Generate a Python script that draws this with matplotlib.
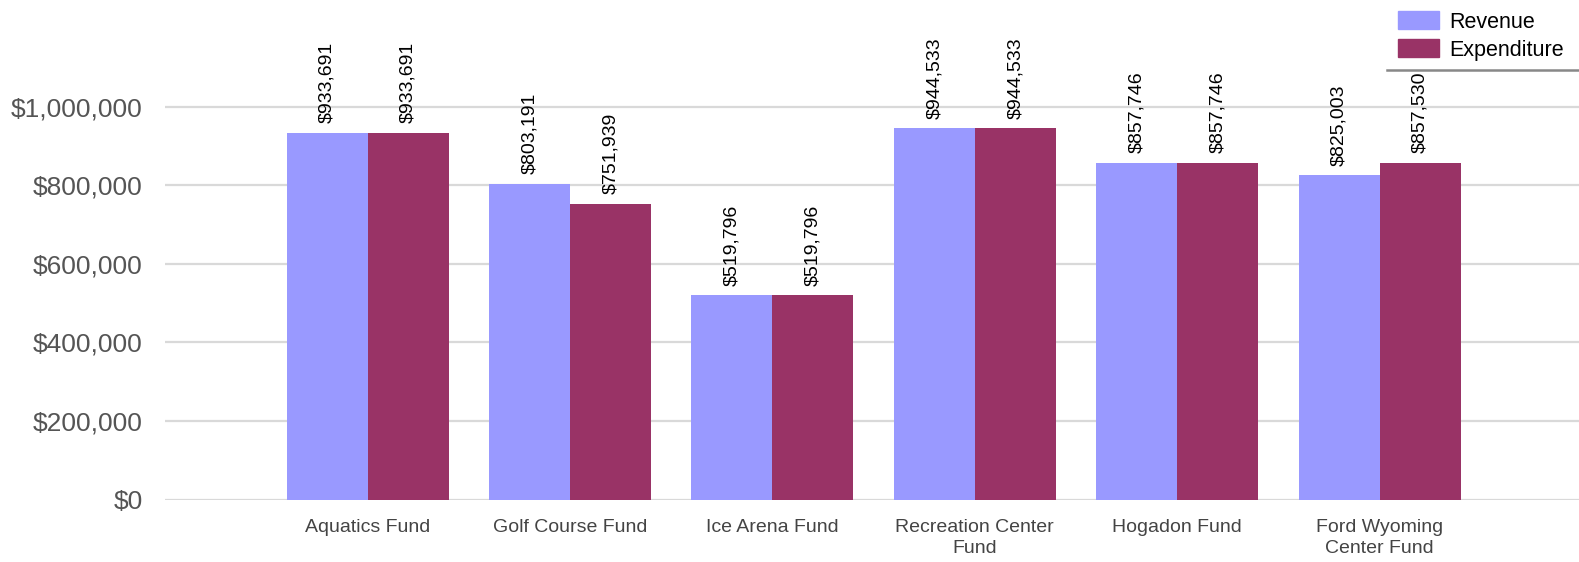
import matplotlib.pyplot as plt
import numpy as np
from matplotlib.lines import Line2D
from matplotlib.patches import Patch

plt.rcParams['font.family'] = ['Liberation Sans', 'DejaVu Sans']

funds = ['Aquatics Fund', 'Golf Course Fund', 'Ice Arena Fund',
         'Recreation Center\nFund', 'Hogadon Fund', 'Ford Wyoming\nCenter Fund']
revenue = [933691, 803191, 519796, 944533, 857746, 825003]
expenditure = [933691, 751939, 519796, 944533, 857746, 857530]

colors = {'revenue': '#9999ff', 'expenditure': '#993366'}

W, H = 1579, 562
fig = plt.figure(figsize=(W / 100, H / 100), dpi=100)
ax = fig.add_axes([165 / W, 1 - 499.5 / H, (W - 165) / W, 499.5 / H])

x = np.arange(len(funds))
width = 0.4
bars_rev = ax.bar(x - width / 2, revenue, width, color=colors['revenue'], zorder=2)
bars_exp = ax.bar(x + width / 2, expenditure, width, color=colors['expenditure'], zorder=2)

for bars, vals in ((bars_rev, revenue), (bars_exp, expenditure)):
    for b, v in zip(bars, vals):
        ax.annotate(f'${v:,}', (b.get_x() + b.get_width() / 2, v),
                    xytext=(0, 7), textcoords='offset points',
                    rotation=90, ha='center', va='bottom',
                    fontsize=14, color='#000000', zorder=3)

ax.set_xlim(-1.001, 5.985)
ax.set_ylim(0, 1.2716e6)
ax.set_yticks(np.arange(0, 1000001, 200000))
ax.set_yticklabels([f'${t:,}' for t in range(0, 1000001, 200000)],
                   fontsize=19, color='#555555')
ax.set_xticks(x)
ax.set_xticklabels(funds, fontsize=14, color='#444444', linespacing=1.35)
ax.tick_params(axis='y', length=0, pad=16)
ax.tick_params(axis='x', length=0, pad=14)
ax.grid(axis='y', color='#d9d9d9', linewidth=1.6, zorder=0)
for s in ax.spines.values():
    s.set_visible(False)

handles = [Patch(color=colors['revenue']), Patch(color=colors['expenditure'])]
fig.legend(handles, ['Revenue', 'Expenditure'], loc='upper left',
           bbox_to_anchor=(1398 / W, 1 - 11.5 / H), frameon=False,
           fontsize=15.5, handlelength=1.9, handleheight=0.9,
           handletextpad=0.5, labelspacing=0.3, borderaxespad=0,
           borderpad=0)

# thin rule under the legend
fig.add_artist(Line2D([1387 / W, 1.0], [1 - 70 / H, 1 - 70 / H],
                      color='#888888', linewidth=1.8))

plt.savefig('out.png', dpi=100)
